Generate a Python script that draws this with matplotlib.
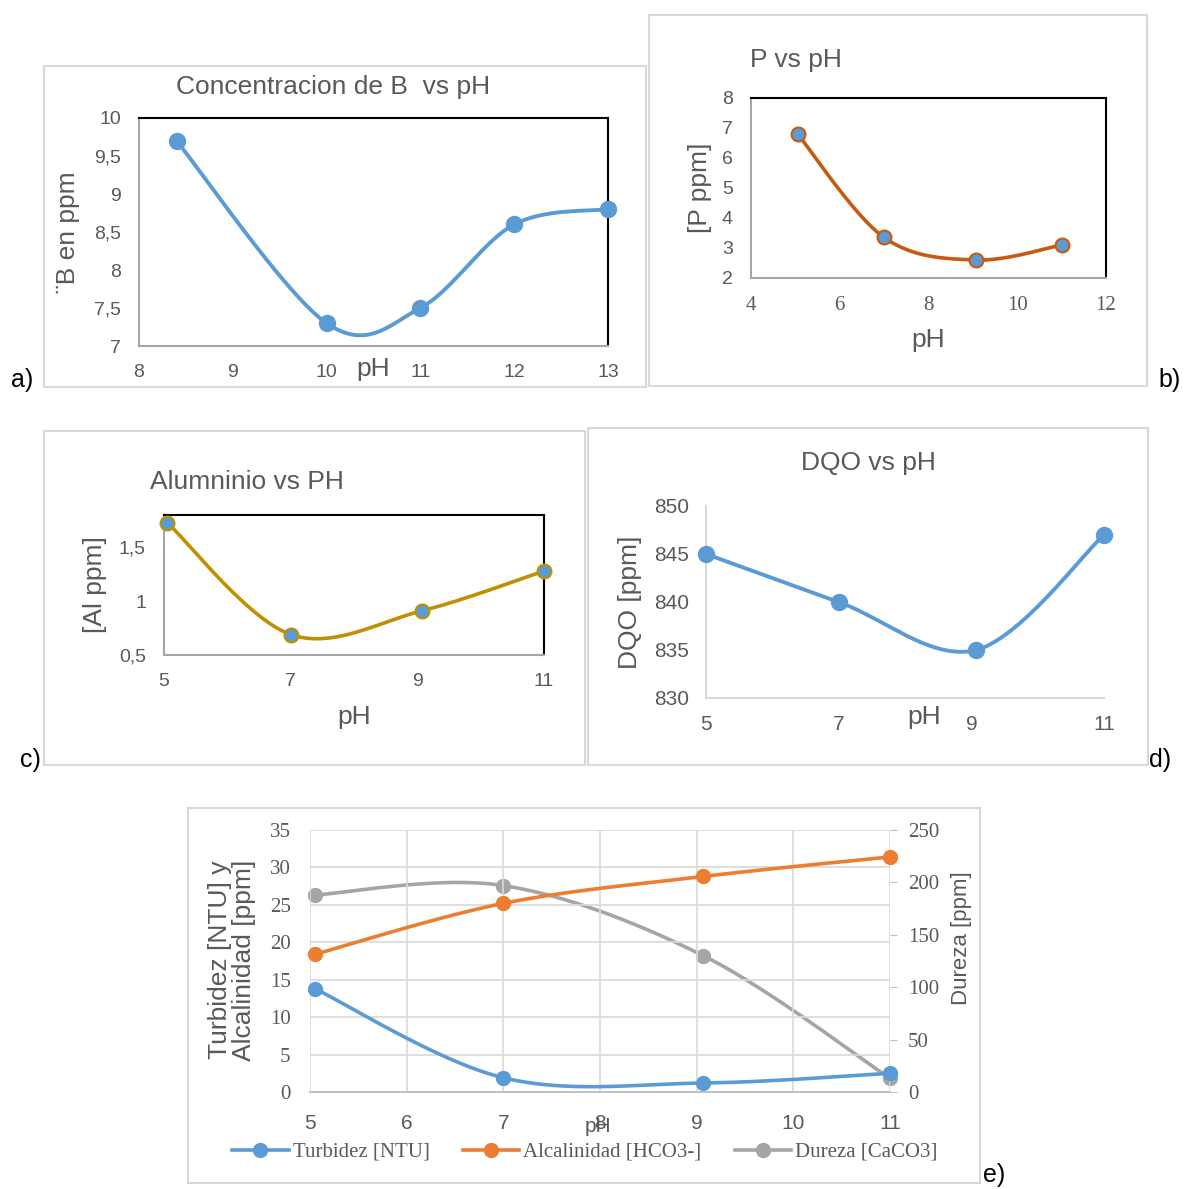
import matplotlib
matplotlib.use('Agg')
import matplotlib.pyplot as plt
from matplotlib.patches import Rectangle
import numpy as np

plt.rcParams['font.family'] = ['Liberation Sans', 'DejaVu Sans']

# ---- data ----
ph_boro = [8.4, 10, 11, 12, 13]
boro_ppm = [9.7, 7.3, 7.5, 8.6, 8.8]

ph_p = [5.05, 7, 9.07, 11]
p_ppm = [6.8, 3.35, 2.6, 3.1]

ph_al = [5.05, 7, 9.07, 11]
al_ppm = [1.73, 0.69, 0.91, 1.28]

ph_dqo = [5.0, 7, 9.07, 11]
dqo_ppm = [845, 840, 835, 847]

ph_e = [5.05, 7, 9.07, 11]
turbidez = [13.8, 1.9, 1.2, 2.5]
alcalinidad = [18.4, 25.2, 28.8, 31.4]
dureza = [188, 197, 130, 13]

BLUE = '#5B9BD5'
ORANGE = '#ED7D31'
GRAY = '#A5A5A5'
TXT = '#595959'

W, H = 1186, 1189
fig = plt.figure(figsize=(W / 100, H / 100), dpi=100)


def axes_px(x0, y0, x1, y1):
    return fig.add_axes([x0 / W, 1 - y1 / H, (x1 - x0) / W, (y1 - y0) / H])


def box_px(x0, y0, x1, y1):
    fig.add_artist(Rectangle((x0 / W, 1 - y1 / H), (x1 - x0) / W, (y1 - y0) / H,
                             transform=fig.transFigure, fill=False,
                             edgecolor='#D9D9D9', lw=1.5))


def text_px(x, y, s, **kw):
    kw.setdefault('ha', 'center')
    kw.setdefault('va', 'center')
    kw.setdefault('color', TXT)
    fig.text(x / W, 1 - y / H, s, **kw)


def smooth(x, y, n=50):
    # excel-like smoothed line (catmull-rom bezier)
    p = np.column_stack([x, y]).astype(float)
    pts = np.vstack([p[0], p, p[-1]])
    out = []
    t = np.linspace(0, 1, n)[:, None]
    for i in range(1, len(pts) - 2):
        p0, p1, p2, p3 = pts[i - 1], pts[i], pts[i + 1], pts[i + 2]
        c1 = p1 + (p2 - p0) / 6
        c2 = p2 - (p3 - p1) / 6
        seg = (1 - t) ** 3 * p1 + 3 * (1 - t) ** 2 * t * c1 + 3 * (1 - t) * t ** 2 * c2 + t ** 3 * p2
        out.append(seg)
    out = np.vstack(out)
    return out[:, 0], out[:, 1]


def framed(ax):
    for s in ['top', 'right']:
        ax.spines[s].set_color('black')
        ax.spines[s].set_linewidth(1.5)
    for s in ['left', 'bottom']:
        ax.spines[s].set_color('#A6A6A6')
        ax.spines[s].set_linewidth(1.5)
    ax.tick_params(length=0, pad=13, colors=TXT, labelsize=14)


def series(ax, x, y, lc, mfc, mec, ms=10, lw=2.6):
    sx, sy = smooth(x, y)
    ax.plot(sx, sy, color=lc, lw=lw, solid_capstyle='round', zorder=3)
    ax.plot(x, y, 'o', ms=ms, mfc=mfc, mec=mec, mew=1.5, zorder=4, clip_on=False)


# ---- a) ----
box_px(44, 66, 646, 387)
ax = axes_px(139, 118, 608, 346)
series(ax, ph_boro, boro_ppm, BLUE, BLUE, BLUE, ms=11, lw=2.8)
ax.set_xlim(8, 13)
ax.set_ylim(7, 10)
ax.set_xticks([8, 9, 10, 11, 12, 13])
ax.set_yticks([7, 7.5, 8, 8.5, 9, 9.5, 10])
ax.set_yticklabels(['7', '7,5', '8', '8,5', '9', '9,5', '10'])
framed(ax)
text_px(333, 87, 'Concentracion de B  vs pH', fontsize=19)
text_px(68, 232, '¨B en ppm', fontsize=19, rotation=90)
text_px(373, 369, 'pH', fontsize=19)
text_px(22, 380, 'a)', fontsize=18, color='black')

# ---- b) ----
box_px(649, 15, 1147, 386)
ax = axes_px(751, 98, 1106, 278)
series(ax, ph_p, p_ppm, '#C55A11', BLUE, '#C55A11', ms=10, lw=2.6)
ax.set_xlim(4, 12)
ax.set_ylim(2, 8)
ax.set_xticks([4, 6, 8, 10, 12])
ax.set_yticks([2, 3, 4, 5, 6, 7, 8])
framed(ax)
for lb in ax.get_xticklabels():
    lb.set_family('Liberation Serif')
    lb.set_fontsize(15)
text_px(750, 60, 'P vs pH', fontsize=19, ha='left')
text_px(700, 188, '[P ppm]', fontsize=19, rotation=90)
text_px(928, 340, 'pH', fontsize=19)
text_px(1170, 380, 'b)', fontsize=18, color='black')

# ---- c) ----
box_px(44, 431, 585, 765)
ax = axes_px(164, 515, 544, 655)
series(ax, ph_al, al_ppm, '#BF9000', BLUE, '#BF9000', ms=10, lw=2.6)
ax.set_xlim(5, 11)
ax.set_ylim(0.5, 1.8)
ax.set_xticks([5, 7, 9, 11])
ax.set_yticks([0.5, 1, 1.5])
ax.set_yticklabels(['0,5', '1', '1,5'])
framed(ax)
text_px(150, 482, 'Alumninio vs PH', fontsize=19, ha='left')
text_px(95, 585, '[Al ppm]', fontsize=19, rotation=90)
text_px(354, 717, 'pH', fontsize=19)
text_px(30, 760, 'c)', fontsize=18, color='black')

# ---- d) ----
box_px(588, 428, 1148, 765)
ax = axes_px(706, 506, 1104, 698)
series(ax, ph_dqo, dqo_ppm, BLUE, BLUE, BLUE, ms=11, lw=2.8)
ax.set_xlim(5, 11)
ax.set_ylim(830, 850)
ax.set_xticks([5, 7, 9, 11])
ax.set_yticks([830, 835, 840, 845, 850])
for s in ['top', 'right']:
    ax.spines[s].set_visible(False)
for s in ['left', 'bottom']:
    ax.spines[s].set_color('#D9D9D9')
    ax.spines[s].set_linewidth(1.5)
ax.tick_params(length=0, pad=12, colors=TXT, labelsize=15)
text_px(868, 463, 'DQO vs pH', fontsize=19)
text_px(630, 602, 'DQO [ppm]', fontsize=19, rotation=90)
text_px(924, 717, 'pH', fontsize=19)
text_px(1160, 760, 'd)', fontsize=18, color='black')

# ---- e) ----
box_px(188, 808, 980, 1183)
ax = axes_px(310, 830, 890, 1092)
ax2 = ax.twinx()
ax.set_zorder(ax2.get_zorder() + 1)
ax.patch.set_visible(False)
x1, y1 = smooth(ph_e, turbidez)
ax.plot(x1, y1, color=BLUE, lw=2.6)
ax.plot(ph_e, turbidez, 'o', ms=10, color=BLUE, clip_on=False, zorder=4)
x2, y2 = smooth(ph_e, alcalinidad)
ax.plot(x2, y2, color=ORANGE, lw=2.6)
ax.plot(ph_e, alcalinidad, 'o', ms=10, color=ORANGE, clip_on=False, zorder=4)
x3, y3 = smooth(ph_e, dureza)
ax2.plot(x3, y3, color=GRAY, lw=2.6)
ax2.plot(ph_e, dureza, 'o', ms=10, color=GRAY, clip_on=False, zorder=4)
ax.set_xlim(5, 11)
ax.set_ylim(0, 35)
ax2.set_ylim(0, 250)
ax.set_xticks([5, 6, 7, 8, 9, 10, 11])
ax.set_yticks([0, 5, 10, 15, 20, 25, 30, 35])
ax2.set_yticks([0, 50, 100, 150, 200, 250])
ax.grid(True, color='#D9D9D9', lw=1.2)
ax.set_axisbelow(True)
for a in (ax, ax2):
    for s in ['top', 'right', 'left']:
        a.spines[s].set_visible(False)
    a.spines['bottom'].set_color('#BFBFBF')
    a.spines['bottom'].set_linewidth(1.2)
ax.tick_params(axis='x', length=0, pad=16, colors=TXT, labelsize=15)
ax.tick_params(axis='y', length=0, pad=14, colors=TXT, labelsize=15)
ax2.tick_params(axis='y', length=5, color='#BFBFBF', pad=8, colors=TXT, labelsize=15)
for lb in ax.get_yticklabels() + ax2.get_yticklabels():
    lb.set_family('Liberation Serif')
text_px(232, 960, 'Turbidez [NTU] y\nAlcalinidad [ppm]', fontsize=19, rotation=90,
        linespacing=1.0)
text_px(962, 938, 'Dureza [ppm]', fontsize=16, rotation=90)
text_px(598, 1127, 'pH', fontsize=15)
hs = [
    plt.Line2D([], [], color=BLUE, lw=2.6, marker='o', ms=10),
    plt.Line2D([], [], color=ORANGE, lw=2.6, marker='o', ms=10),
    plt.Line2D([], [], color=GRAY, lw=2.6, marker='o', ms=10),
]
leg = fig.legend(hs, ['Turbidez [NTU]', 'Alcalinidad [HCO3-]', 'Dureza [CaCO3]'],
                 loc='center', bbox_to_anchor=(585 / W, 1 - 1152 / H), ncol=3,
                 frameon=False, handlelength=2.7, columnspacing=1.6, handletextpad=0.2,
                 prop={'family': 'Liberation Serif', 'size': 15})
for t in leg.get_texts():
    t.set_color(TXT)
text_px(994, 1175, 'e)', fontsize=18, color='black')

fig.savefig('out.png', dpi=100)
